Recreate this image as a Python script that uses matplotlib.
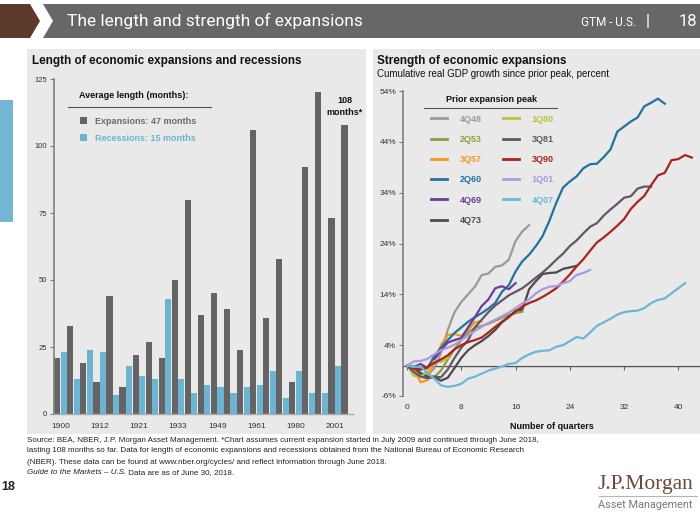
import matplotlib
matplotlib.use("Agg")
import matplotlib.pyplot as plt
from matplotlib.patches import Polygon, Rectangle, Patch
from matplotlib.lines import Line2D

plt.rcParams['font.family'] = ['Liberation Sans', 'DejaVu Sans']

# ---------------- data: left chart ----------------
expansion_months = [21, 33, 19, 12, 44, 10, 22, 27, 21, 50, 80, 37, 45, 39, 24,
                    106, 36, 58, 12, 92, 120, 73, 108]
recession_months = [23, 13, 24, 23, 7, 18, 14, 13, 43, 13, 8, 11, 10, 8, 10,
                    11, 16, 6, 16, 8, 8, 18]
year_labels = ['1900', '1912', '1921', '1933', '1949', '1961', '1980', '2001']
label_step = 3
left_yticks = [0, 25, 50, 75, 100, 125]
legend_left_labels = ['Expansions: 47 months', 'Recessions: 15 months']
current_note = '108\nmonths*'

# ---------------- data: right chart ----------------
peak_labels = ['4Q48', '2Q53', '3Q57', '2Q60', '4Q69', '4Q73',
               '1Q80', '3Q81', '3Q90', '1Q01', '4Q07']
gdp_4Q48 = [0, -0.5, -1.5, -1.8, -0.6, 2.5, 7.0, 10.5, 12.5, 14.0, 15.5, 17.8,
            18.1, 19.4, 19.7, 20.8, 24.5, 26.4, 27.6]
gdp_2Q53 = [0, -0.5, -1.8, -2.6, -2.3, -1.0, 1.2, 3.2, 5.0, 6.5, 7.4, 7.8,
            8.2, 8.8, 9.4, 9.9, 10.3, 10.6]
gdp_3Q57 = [0, -0.8, -3.3, -2.9, 1.0, 4.0, 6.0, 6.2, 5.8, 7.0, 8.5, 8.7]
gdp_2Q60 = [0, -0.3, -0.8, -0.5, 1.8, 3.5, 5.0, 6.4, 7.5, 8.6, 9.5, 10.3,
            11.2, 12.3, 14.5, 15.8, 18.5, 20.5, 21.8, 23.5, 25.5, 28.5, 32.0,
            35.0, 36.2, 37.2, 38.8, 39.6, 39.7, 41.0, 42.5, 46.0, 47.0, 48.0,
            48.8, 51.0, 51.7, 52.5, 51.5]
gdp_4Q69 = [0, -0.3, 0.3, -0.5, 1.2, 3.0, 4.5, 5.0, 5.4, 7.5, 9.5, 11.7,
            13.0, 15.2, 15.6, 15.0, 16.2]
gdp_4Q73 = [0, -0.5, -1.5, -2.2, -2.2, -3.0, -2.4, -0.5, 1.5, 3.0, 4.0, 4.8,
            5.8, 7.0, 8.5, 9.5, 10.8, 11.0, 15.0, 16.6, 18.0, 18.2, 18.3, 19.0,
            19.3, 19.6]
gdp_1Q80 = [0, -2.0, -2.2, -1.2, 0.9, 0.7, 1.5]
gdp_3Q81 = [0, -1.3, -2.2, -2.5, -2.2, -2.3, -0.8, 1.5, 3.5, 5.0, 7.5, 9.0,
            10.5, 11.8, 12.8, 13.8, 14.5, 15.2, 16.2, 17.3, 18.3, 19.5, 20.8,
            22.0, 23.5, 24.6, 26.0, 27.3, 28.0, 29.5, 30.7, 31.8, 33.0, 33.3,
            34.8, 35.2, 35.2]
gdp_3Q90 = [0, -0.6, -0.8, -0.3, 0.5, 1.2, 2.0, 3.2, 4.0, 4.6, 5.0, 5.5, 6.5,
            7.6, 8.6, 9.6, 10.6, 11.6, 12.3, 12.8, 13.5, 14.3, 15.2, 16.5, 17.9,
            19.5, 20.9, 22.6, 24.2, 25.2, 26.3, 27.5, 28.8, 30.8, 32.2, 33.4,
            35.5, 37.4, 37.9, 40.4, 40.6, 41.4, 40.9]
gdp_1Q01 = [0, 0.8, 0.9, 1.3, 2.2, 3.0, 3.5, 4.1, 5.0, 5.9, 6.8, 7.6, 8.4,
            9.0, 9.7, 10.4, 11.3, 12.2, 13.0, 14.2, 15.0, 15.5, 15.6, 16.2,
            16.6, 17.8, 18.2, 18.8]
gdp_4Q07 = [0, -0.3, -0.2, -1.5, -2.6, -3.9, -4.2, -4.0, -3.6, -2.6, -2.2,
            -1.6, -1.0, -0.6, -0.2, 0.3, 0.5, 1.5, 2.2, 2.7, 2.9, 3.0, 3.7, 4.0,
            4.8, 5.6, 5.3, 6.5, 7.8, 8.5, 9.2, 10.0, 10.5, 10.7, 10.8, 11.3,
            12.3, 12.9, 13.2, 14.2, 15.2, 16.2]
gdp_series = [gdp_4Q48, gdp_2Q53, gdp_3Q57, gdp_2Q60, gdp_4Q69, gdp_4Q73,
              gdp_1Q80, gdp_3Q81, gdp_3Q90, gdp_1Q01, gdp_4Q07]
series_colors = ['#9a9a9a', '#8e9d3c', '#f7941e', '#21729c', '#6a3d9a',
                 '#4a4a4a', '#bec238', '#665468', '#a8241c', '#a99be0',
                 '#6bb8d5']
right_yticks = [-6, 4, 14, 24, 34, 44, 54]
right_xticks = [0, 8, 16, 24, 32, 40]

# ---------------- figure ----------------
W, H = 700, 525
fig = plt.figure(figsize=(W / 100, H / 100), dpi=100)
fig.patch.set_facecolor('white')


def fx(x):
    return x / W


def fy(y):
    return 1 - y / H


def fpts(pts):
    return [(fx(a), fy(b)) for a, b in pts]


# header band
fig.add_artist(Polygon(fpts([(0, 4), (30, 4), (40, 21), (30, 38), (0, 38)]),
                       closed=True, transform=fig.transFigure,
                       facecolor='#5c3a2b', edgecolor='none', zorder=-2))
fig.add_artist(Polygon(fpts([(43, 4), (700, 4), (700, 38), (43, 38), (53, 21)]),
                       closed=True, transform=fig.transFigure,
                       facecolor='#676767', edgecolor='none', zorder=-2))
fig.text(fx(67), fy(21), 'The length and strength of expansions', color='white',
         fontsize=12.5, family=['Roboto', 'DejaVu Sans'], va='center', ha='left')
fig.text(fx(636), fy(22), 'GTM - U.S.', color='white', fontsize=8.5,
         family=['Roboto', 'DejaVu Sans'], va='center', ha='right')
fig.text(fx(648), fy(21), '|', color='white', fontsize=12,
         family=['Roboto', 'DejaVu Sans'], va='center', ha='center')
fig.text(fx(697), fy(21), '18', color='white', fontsize=12,
         family=['Roboto', 'DejaVu Sans'], va='center', ha='right')

# left blue tab
fig.add_artist(Rectangle((fx(0), fy(222)), fx(13), 122 / H, transform=fig.transFigure,
                         facecolor='#74b6d3', edgecolor='none', zorder=-2))

# panels
panel_color = '#e9e9e9'
fig.add_artist(Rectangle((fx(27), fy(434)), (366 - 27) / W, (434 - 49) / H,
                         transform=fig.transFigure, facecolor=panel_color,
                         edgecolor='none', zorder=-2))
fig.add_artist(Rectangle((fx(373), fy(434)), (700 - 373) / W, (434 - 49) / H,
                         transform=fig.transFigure, facecolor=panel_color,
                         edgecolor='none', zorder=-2))

# panel titles
fig.text(fx(32), fy(61), 'Length of economic expansions and recessions',
         fontsize=8.5, fontweight='bold', va='center', ha='left', color='#111111')
fig.text(fx(377), fy(61), 'Strength of economic expansions',
         fontsize=8.5, fontweight='bold', va='center', ha='left', color='#111111')
fig.text(fx(377), fy(74), 'Cumulative real GDP growth since prior peak, percent',
         fontsize=7, va='center', ha='left', color='#111111')

# ---------------- left chart ----------------
exp_color = '#646464'
rec_color = '#6cb4d1'
axL = fig.add_axes([fx(54), fy(414), (353 - 54) / W, (414 - 79) / H])
axL.set_facecolor('none')
xe = [i - 0.25 for i in range(len(expansion_months))]
xr = [i + 0.25 for i in range(len(recession_months))]
axL.bar(xe, expansion_months, width=0.47, color=exp_color, zorder=2)
axL.bar(xr, recession_months, width=0.47, color=rec_color, zorder=2)
axL.set_xlim(-0.5, 22.4)
axL.set_ylim(0, 125)
axL.set_yticks(left_yticks)
axL.set_xticks(list(range(0, len(expansion_months), label_step)))
axL.set_xticklabels(year_labels)
for s in ['top', 'right']:
    axL.spines[s].set_visible(False)
axL.spines['left'].set_color('#7f7f7f')
axL.spines['left'].set_linewidth(1.2)
axL.spines['bottom'].set_color('#aaaaaa')
axL.spines['bottom'].set_linewidth(1.0)
axL.tick_params(axis='y', length=3, width=0.8, color='#7f7f7f', labelsize=5.5,
                pad=2, labelcolor='#333333')
axL.tick_params(axis='x', length=0, labelsize=6, pad=6.5, labelcolor='#333333')
axL.annotate(current_note, xy=(xe[-1], expansion_months[-1]), xytext=(0, 13),
             textcoords='offset points', ha='center', va='center',
             fontsize=6.5, fontweight='bold', linespacing=1.3, color='#111111',
             annotation_clip=False)

legL = fig.legend([Patch(facecolor=exp_color), Patch(facecolor=rec_color)],
                  legend_left_labels, loc='upper left',
                  bbox_to_anchor=(fx(80), fy(117)), bbox_transform=fig.transFigure,
                  frameon=False, prop={'weight': 'bold', 'size': 6.5},
                  handlelength=0.78, handleheight=0.78, handletextpad=0.85,
                  labelspacing=0.86, borderpad=0, borderaxespad=0,
                  labelcolor=['#6a6a6a', rec_color])
fig.text(fx(79), fy(96), 'Average length (months):', fontsize=6.5,
         fontweight='bold', va='center', ha='left', color='#111111')
fig.add_artist(Line2D([fx(68), fx(211)], [fy(107), fy(107)],
                      transform=fig.transFigure, color='#555555', lw=0.8))

# ---------------- right chart ----------------
axR = fig.add_axes([fx(403), fy(396), (700 - 403) / W, (396 - 91) / H])
axR.set_facecolor('none')
for lab, vals, col in zip(peak_labels, gdp_series, series_colors):
    axR.plot(list(range(len(vals))), vals, color=col, lw=1.6, label=lab,
             solid_joinstyle='round', zorder=3)
ylo, yhi = -6, 54
axR.set_xlim(-0.6, 43.2)
axR.set_ylim(ylo, yhi)
axR.set_yticks(right_yticks)
axR.set_yticklabels([f'{v}%' for v in right_yticks])
axR.set_xticks(right_xticks)
for s in ['top', 'right', 'bottom']:
    axR.spines[s].set_visible(False)
axR.spines['left'].set_color('#7f7f7f')
axR.spines['left'].set_linewidth(1.2)
axR.tick_params(axis='y', length=3, width=0.8, color='#7f7f7f', labelsize=6,
                pad=2, labelcolor='#333333')
axR.tick_params(axis='x', length=0, labelsize=6, pad=5.5, labelcolor='#333333')
axR.set_xlabel('Number of quarters', fontsize=6.5, fontweight='bold',
               labelpad=8.5, color='#111111')

sec = axR.secondary_xaxis((0 - ylo) / (yhi - ylo))
sec.set_xticks(right_xticks)
sec.tick_params(axis='x', length=3, width=0.8, color='#666666', labelbottom=False,
                direction='out')
sec.spines['bottom'].set_color('#555555')
sec.spines['bottom'].set_linewidth(1.0)

legR = axR.legend(ncol=2, loc='upper left', bbox_to_anchor=(fx(431), fy(114.5)),
                  bbox_transform=fig.transFigure, frameon=False,
                  prop={'weight': 'bold', 'size': 6.5}, labelcolor='linecolor',
                  handlelength=1.77, handletextpad=1.44, columnspacing=2.3,
                  labelspacing=1.25, borderpad=0, borderaxespad=0)
for ln in legR.get_lines():
    ln.set_linewidth(2)
fig.text(fx(491), fy(99), 'Prior expansion peak', fontsize=6.5, fontweight='bold',
         va='center', ha='center', color='#111111')
fig.add_artist(Line2D([fx(424), fx(557)], [fy(108), fy(108)],
                      transform=fig.transFigure, color='#555555', lw=0.8))

# ---------------- footer ----------------
foot_size = 5.8
foot_lines = [
    'Source: BEA, NBER, J.P. Morgan Asset Management. *Chart assumes current expansion started in July 2009 and continued through June 2018,',
    'lasting 108 months so far. Data for length of economic expansions and recessions obtained from the National Bureau of Economic Research',
    '(NBER). These data can be found at www.nber.org/cycles/ and reflect information through June 2018.',
]
for i, line in enumerate(foot_lines):
    fig.text(fx(27), fy(440 + 11 * i), line, fontsize=foot_size, va='center',
             ha='left', color='#222222')
t_it = fig.text(fx(27), fy(473), 'Guide to the Markets \u2013 U.S.', fontsize=foot_size,
                style='italic', va='center', ha='left', color='#222222')
axL.annotate(' Data are as of June 30, 2018.', xy=(1, 0), xycoords=t_it,
             va='bottom', ha='left', fontsize=foot_size, color='#222222',
             annotation_clip=False)

fig.text(fx(1), fy(487), '18', fontsize=9, fontweight='bold', va='center',
         ha='left', color='#222222')

# logo
fig.text(fx(598), fy(484), 'J.P.Morgan', fontsize=15.5,
         family=['Liberation Serif', 'DejaVu Serif'], color='#6b4a3a',
         va='center', ha='left')
fig.add_artist(Line2D([fx(599), fx(697)], [fy(496), fy(496)],
                      transform=fig.transFigure, color='#b5b5b5', lw=0.8))
fig.text(fx(598), fy(505), 'Asset Management', fontsize=7.8,
         family=['Roboto', 'DejaVu Sans'], color='#7a7a7a', va='center', ha='left')

fig.savefig('out.png', dpi=100, facecolor='white')
